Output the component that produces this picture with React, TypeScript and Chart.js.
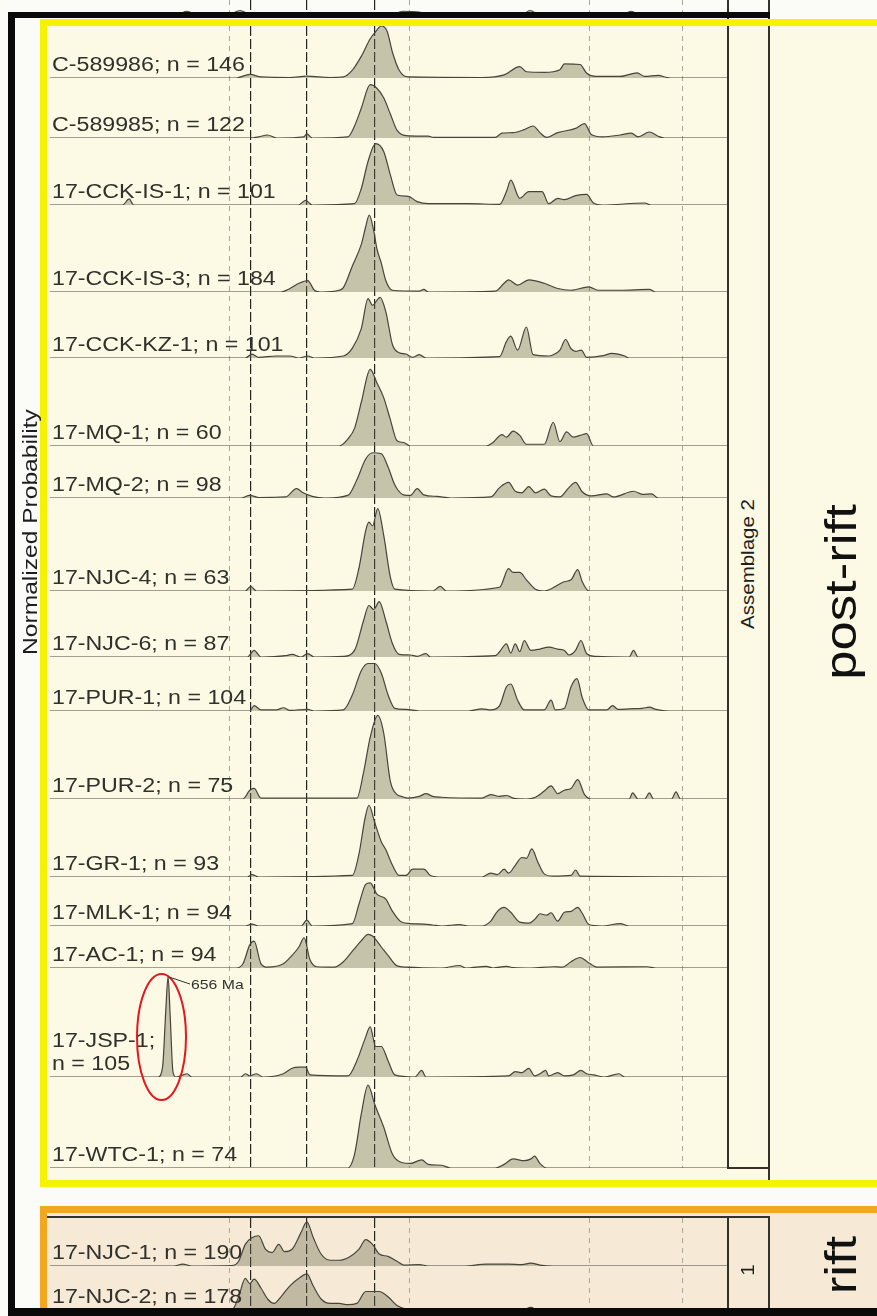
import React, { useEffect, useRef } from "react";
import { Chart, registerables } from "chart.js";

Chart.register(...registerables);

// ---------------- age axis (Ma) ----------------
const AGE_MIN = 0;
const AGE_MAX = 3767;
const referenceAges = [1000, 1115, 1427, 1804, 2000, 3000, 3515];
const referenceIsMajor = [false, true, true, true, false, false, false];

// ---------------- samples ----------------
const postRiftNames = [
  "C-589986", "C-589985", "17-CCK-IS-1", "17-CCK-IS-3", "17-CCK-KZ-1", "17-MQ-1", "17-MQ-2", "17-NJC-4",
  "17-NJC-6", "17-PUR-1", "17-PUR-2", "17-GR-1", "17-MLK-1", "17-AC-1", "17-JSP-1", "17-WTC-1",
];
const postRiftN = [146, 122, 101, 184, 101, 60, 98, 63, 87, 104, 75, 93, 94, 94, 105, 74];
const riftNames = ["17-NJC-1", "17-NJC-2"];
const riftN = [190, 178];

// normalized probability curves: [age (Ma), normalized probability]
const C589986 = [[0,0],[1035,0],[1110,0.07],[1172,0.02],[1333,0.01],[1427,0.035],[1556,0.01],[1630,0.02],[1680,0.15],[1730,0.42],[1780,0.76],[1809,0.89],[1841,1.0],[1873,0.9],[1903,0.49],[1940,0.15],[1990,0.02],[2400,0.01],[2523,0.06],[2610,0.22],[2647,0.12],[2746,0.11],[2833,0.16],[2858,0.27],[2945,0.26],[2982,0.09],[3032,0.03],[3168,0.03],[3262,0.1],[3304,0.03],[3379,0.05],[3428,0.01],[3466,0],[3767,0]];
const C589985 = [[0,0],[1110,0],[1160,0.02],[1209,0.05],[1260,0],[1410,0.02],[1427,0.07],[1457,0],[1655,0.02],[1692,0.2],[1730,0.5],[1779,0.89],[1816,0.83],[1854,0.67],[1891,0.4],[1928,0.13],[1978,0.04],[2102,0.03],[2130,0.01],[2474,0.01],[2511,0.08],[2573,0.09],[2635,0.14],[2684,0.2],[2722,0.09],[2759,0.01],[2821,0.09],[2920,0.16],[2970,0.24],[3007,0.06],[3070,0.02],[3168,0.05],[3230,0.08],[3267,0.02],[3330,0.1],[3379,0.03],[3415,0],[3767,0]];
const CCK_IS_1 = [[0,0],[403,0],[440,0.09],[465,0],[1380,0],[1420,0.07],[1457,0],[1692,0.02],[1730,0.25],[1767,0.65],[1809,0.915],[1854,0.8],[1891,0.45],[1928,0.15],[1990,0.13],[2040,0.05],[2102,0.02],[2325,0.02],[2498,0.01],[2536,0.2],[2560,0.37],[2610,0.1],[2660,0.2],[2697,0.2],[2734,0.2],[2771,0.02],[2821,0.1],[2858,0.08],[2920,0.14],[2982,0.16],[3019,0.03],[3070,0],[3304,0.03],[3340,0],[3767,0]];
const CCK_IS_3 = [[0,0],[1283,0],[1333,0.04],[1383,0.1],[1432,0.13],[1469,0.02],[1506,0],[1606,0.02],[1630,0.05],[1680,0.3],[1730,0.55],[1754,0.75],[1774,0.885],[1799,0.7],[1816,0.5],[1841,0.33],[1866,0.13],[1903,0.02],[2052,0.01],[2077,0.03],[2102,0],[2474,0.01],[2523,0.1],[2548,0.14],[2598,0.08],[2660,0.14],[2746,0.1],[2821,0.04],[2895,0.02],[2994,0.06],[3044,0.02],[3168,0.02],[3330,0.03],[3366,0],[3767,0]];
const CCK_KZ_1 = [[0,0],[1085,0],[1122,0.06],[1159,0.01],[1258,0.03],[1333,0.03],[1383,0],[1432,0.03],[1469,0],[1630,0.03],[1680,0.15],[1730,0.45],[1767,0.9],[1792,0.8],[1834,0.92],[1866,0.7],[1903,0.2],[1940,0.08],[1978,0.06],[2015,0.01],[2052,0.05],[2089,0],[2498,0.02],[2536,0.25],[2560,0.33],[2598,0.12],[2647,0.47],[2684,0.05],[2771,0.03],[2796,0.05],[2833,0.12],[2865,0.28],[2895,0.14],[2920,0.1],[2952,0.12],[2982,0.01],[3081,0.04],[3120,0.07],[3156,0.06],[3193,0.03],[3218,0],[3767,0]];
const MQ_1 = [[0,0],[1606,0],[1655,0.08],[1692,0.2],[1730,0.5],[1779,0.87],[1816,0.72],[1854,0.55],[1891,0.3],[1928,0.06],[1965,0.04],[2003,0],[2424,0],[2461,0.04],[2511,0.13],[2536,0.1],[2573,0.17],[2610,0.12],[2647,0.02],[2746,0.02],[2796,0.27],[2833,0.05],[2870,0.16],[2908,0.1],[2945,0.12],[2982,0.14],[3019,0],[3767,0]];
const MQ_2 = [[0,0],[1060,0],[1110,0.05],[1159,0.01],[1308,0.02],[1370,0.18],[1407,0.1],[1457,0.03],[1531,0],[1655,0.05],[1705,0.35],[1754,0.75],[1792,0.87],[1841,0.85],[1878,0.6],[1916,0.25],[1965,0.06],[2003,0.05],[2040,0.18],[2077,0.06],[2151,0.03],[2226,0],[2449,0.02],[2498,0.2],[2548,0.3],[2585,0.13],[2622,0.1],[2660,0.22],[2697,0.1],[2746,0.17],[2784,0.04],[2833,0.02],[2883,0.2],[2920,0.3],[2957,0.12],[3007,0.04],[3094,0.08],[3131,0.02],[3242,0.13],[3292,0.07],[3342,0.08],[3379,0],[3767,0]];
const NJC_4 = [[0,0],[1085,0],[1115,0.05],[1147,0],[1680,0.02],[1717,0.25],[1754,0.65],[1772,0.74],[1792,0.7],[1821,0.886],[1854,0.6],[1891,0.15],[1916,0.02],[2126,0],[2169,0.05],[2201,0],[2498,0.04],[2548,0.24],[2573,0.2],[2610,0.2],[2647,0.12],[2697,0.02],[2746,0],[2858,0.1],[2895,0.12],[2932,0.23],[2957,0.1],[2994,0],[3767,0]];
const NJC_6 = [[0,0],[1097,0],[1134,0.1],[1172,0],[1308,0.02],[1345,0.04],[1395,0],[1432,0.05],[1469,0],[1630,0.01],[1692,0.1],[1742,0.55],[1772,0.78],[1799,0.72],[1829,0.84],[1866,0.55],[1903,0.2],[1940,0.04],[2003,0.03],[2040,0.01],[2089,0.05],[2114,0],[2474,0.02],[2498,0.08],[2536,0.2],[2560,0.06],[2585,0.2],[2610,0.08],[2635,0.25],[2672,0.1],[2722,0.12],[2771,0.15],[2821,0.12],[2858,0.1],[2883,0.03],[2920,0.1],[2950,0.25],[2982,0.05],[3032,0.01],[3218,0],[3242,0.1],[3267,0],[3767,0]];
const PUR_1 = [[0,0],[1110,0],[1134,0.1],[1172,0.02],[1258,0.02],[1296,0.06],[1333,0.01],[1432,0.03],[1469,0],[1630,0.02],[1680,0.3],[1730,0.75],[1767,0.88],[1804,0.88],[1841,0.7],[1878,0.3],[1916,0.05],[1978,0.03],[2052,0],[2325,0],[2400,0.04],[2449,0.02],[2498,0.1],[2536,0.45],[2560,0.5],[2598,0.2],[2635,0.02],[2746,0.02],[2784,0.2],[2808,0.02],[2858,0.05],[2895,0.45],[2928,0.6],[2957,0.25],[2994,0.02],[3094,0.02],[3126,0.1],[3156,0.03],[3218,0.04],[3292,0.05],[3330,0.07],[3366,0.03],[3440,0],[3767,0]];
const PUR_2 = [[0,0],[1072,0],[1110,0.1],[1134,0.12],[1172,0.01],[1705,0.01],[1742,0.3],[1779,0.7],[1821,0.95],[1854,0.75],[1891,0.2],[1928,0.05],[1953,0.03],[1990,0.01],[2052,0.03],[2089,0.06],[2126,0.03],[2176,0.02],[2400,0.01],[2449,0.05],[2498,0.03],[2536,0.04],[2573,0.01],[2647,0],[2697,0.02],[2746,0.09],[2784,0.15],[2821,0.06],[2858,0.1],[2895,0.12],[2932,0.22],[2970,0.05],[3007,0],[3218,0],[3237,0.07],[3267,0],[3304,0],[3330,0.07],[3354,0],[3453,0],[3478,0.08],[3503,0],[3767,0]];
const GR_1 = [[0,0],[1097,0],[1122,0.03],[1159,0],[1680,0.02],[1717,0.3],[1750,0.75],[1772,0.92],[1804,0.7],[1841,0.45],[1866,0.35],[1903,0.15],[1940,0.02],[1978,0.02],[2015,0.1],[2077,0.1],[2114,0.02],[2176,0],[2400,0],[2449,0.05],[2486,0.03],[2523,0.1],[2548,0.05],[2585,0.15],[2622,0.25],[2647,0.24],[2677,0.36],[2709,0.2],[2746,0.04],[2796,0.01],[2895,0.02],[2920,0.09],[2945,0.01],[3767,0]];
const MLK_1 = [[0,0],[1085,0],[1122,0.04],[1159,0],[1395,0],[1427,0.12],[1457,0],[1680,0.05],[1717,0.45],[1754,0.85],[1779,0.88],[1816,0.65],[1866,0.55],[1903,0.3],[1953,0.08],[2003,0.05],[2077,0.04],[2126,0.02],[2176,0],[2275,0.03],[2325,0],[2400,0],[2449,0.1],[2486,0.3],[2523,0.38],[2560,0.28],[2610,0.08],[2660,0.06],[2697,0.15],[2722,0.25],[2759,0.22],[2784,0.27],[2821,0.1],[2858,0.28],[2895,0.3],[2932,0.38],[2957,0.26],[2994,0.03],[3069,0],[3168,0.05],[3218,0],[3767,0]];
const AC_1 = [[0,0],[1035,0],[1072,0.1],[1110,0.55],[1134,0.64],[1172,0.1],[1209,0.02],[1296,0.1],[1345,0.3],[1383,0.5],[1412,0.72],[1444,0.2],[1481,0.03],[1581,0.02],[1630,0.15],[1680,0.4],[1730,0.65],[1767,0.8],[1792,0.76],[1841,0.5],[1878,0.3],[1928,0.05],[1978,0.02],[2176,0],[2275,0.06],[2312,0],[2424,0.04],[2461,0],[2536,0.04],[2573,0.01],[2672,0],[2796,0.03],[2846,0.02],[2895,0.15],[2945,0.25],[2994,0.12],[3044,0.02],[3317,0.03],[3366,0],[3767,0]];
const JSP_1 = [[0,0],[600,0],[626,0.1],[643,0.6],[656,0.92],[668,0.55],[683,0.05],[700,0],[762,0.03],[787,0],[1060,0],[1085,0.03],[1110,0.01],[1147,0.03],[1184,0],[1296,0.03],[1345,0.08],[1383,0.09],[1420,0.09],[1444,0.02],[1655,0.01],[1705,0.15],[1750,0.35],[1779,0.46],[1809,0.28],[1841,0.28],[1878,0.15],[1916,0.02],[2027,0],[2065,0.06],[2089,0],[2548,0.01],[2585,0.05],[2622,0.04],[2660,0.08],[2692,0.01],[2722,0.03],[2754,0.06],[2771,0.01],[2821,0.04],[2858,0.01],[2908,0.02],[2950,0.06],[2982,0.03],[3019,0.02],[3081,0],[3161,0.03],[3193,0],[3767,0]];
const WTC_1 = [[0,0],[1655,0],[1692,0.15],[1730,0.6],[1767,0.91],[1804,0.7],[1854,0.45],[1903,0.15],[1953,0.06],[2003,0.05],[2065,0.09],[2102,0.04],[2176,0.03],[2226,0],[2474,0],[2523,0.04],[2573,0.1],[2635,0.08],[2672,0.1],[2692,0.13],[2722,0.05],[2759,0],[3767,0]];
const NJC_1 = [[0,0],[688,0],[738,0.04],[787,0],[1010,0.01],[1048,0.1],[1085,0.45],[1122,0.59],[1159,0.63],[1197,0.35],[1234,0.28],[1271,0.45],[1303,0.3],[1345,0.35],[1395,0.7],[1427,0.92],[1462,0.6],[1506,0.25],[1556,0.12],[1606,0.12],[1668,0.2],[1717,0.35],[1754,0.55],[1792,0.45],[1829,0.25],[1878,0.2],[1928,0.1],[1965,0.02],[2052,0.03],[2102,0],[2300,0],[2424,0.04],[2548,0.04],[2622,0.03],[2672,0.06],[2722,0.02],[2796,0],[3767,0]];
const NJC_2 = [[0,0],[1010,0],[1048,0.3],[1085,0.72],[1110,0.6],[1134,0.7],[1172,0.5],[1209,0.25],[1246,0.15],[1283,0.3],[1333,0.55],[1383,0.72],[1427,0.82],[1462,0.55],[1506,0.25],[1556,0.15],[1606,0.15],[1655,0.12],[1705,0.15],[1754,0.42],[1829,0.42],[1878,0.3],[1928,0.1],[1978,0.02],[2050,0],[2622,0],[2672,0.06],[2710,0],[3767,0]];
// tail of the curve of the panel above (cut off by the page top)
const panelAboveTail = [[0,0],[700,0],[760,0.25],[820,0],[1000,0.05],[1056,0.3],[1110,0.05],[1900,0.05],[1960,0.25],[2050,0.2],[2110,0.05],[2200,0],[2620,0],[2668,0.3],[2720,0],[3180,0],[3228,0.25],[3280,0],[3767,0]];

const postRiftSeries = [C589986, C589985, CCK_IS_1, CCK_IS_3, CCK_KZ_1, MQ_1, MQ_2, NJC_4, NJC_6, PUR_1, PUR_2, GR_1, MLK_1, AC_1, JSP_1, WTC_1];
const riftSeries = [NJC_1, NJC_2];

// ---------------- layout (px) ----------------
const PLOT_LEFT = 50;
const PLOT_WIDTH = 678;
const TOP_STRIP_H = 15;
const POST_TOP = 26;
const postRowHeights = [52, 60, 67, 87, 66, 88, 52, 93, 66, 54, 88, 78, 49, 42, 109, 91];
const RIFT_TOP = 1218;
const riftRowHeights = [48, 44];

const FONT = '"Liberation Sans", Arial, Helvetica, sans-serif';
const STRETCH = 1.17;

function isMajor(ctx: any) {
  return !!referenceIsMajor[ctx.index];
}

function makeConfig(series: number[][][], weights: number[]): any {
  const scales: Record<string, any> = {
    x: {
      type: "linear",
      min: AGE_MIN,
      max: AGE_MAX,
      afterBuildTicks: (axis: any) => {
        axis.ticks = referenceAges.map((value) => ({ value }));
      },
      ticks: { display: false },
      grid: {
        drawTicks: false,
        lineWidth: (ctx: any) => (isMajor(ctx) ? 1.2 : 1),
        color: (ctx: any) => (isMajor(ctx) ? "#24241f" : "#a8a79a"),
      },
      border: { display: false, dash: (ctx: any) => (isMajor(ctx) ? [10, 3] : [5, 5]) },
    },
  };
  const datasets = series.map((pts, i) => {
    const id = "y" + i;
    scales[id] = {
      type: "linear",
      position: "right",
      stack: "rows",
      stackWeight: weights[i],
      min: 0,
      max: 1,
      display: false,
    };
    return {
      data: pts.map(([x, y]) => ({ x, y })),
      yAxisID: id,
      borderColor: "#46453c",
      borderWidth: 1.2,
      backgroundColor: "rgba(110,104,78,0.38)",
      fill: "origin",
      pointRadius: 0,
      cubicInterpolationMode: "monotone",
    };
  });
  return {
    type: "line",
    data: { datasets },
    options: {
      responsive: false,
      animation: false,
      events: [],
      layout: { padding: 0, autoPadding: false },
      plugins: { legend: { display: false }, tooltip: { enabled: false }, title: { display: false } },
      scales,
    },
  };
}

function KdeStack(props: { series: number[][][]; rows: number[]; top: number }) {
  const ref = useRef<HTMLCanvasElement | null>(null);
  const height = props.rows.reduce((a, b) => a + b, 0);
  useEffect(() => {
    if (!ref.current) return;
    const chart = new Chart(ref.current, makeConfig(props.series, props.rows));
    return () => chart.destroy();
  }, []);
  return (
    <canvas
      ref={ref}
      width={PLOT_WIDTH}
      height={height}
      style={{ position: "absolute", left: PLOT_LEFT, top: props.top, width: PLOT_WIDTH, height, display: "block" }}
    />
  );
}

function Box(p: { l: number; t: number; w: number; h: number; bg: string; z?: number }) {
  return <div style={{ position: "absolute", left: p.l, top: p.t, width: p.w, height: p.h, background: p.bg, zIndex: p.z }} />;
}

function RotText(p: { cx: number; cy: number; size: number; text: string; color?: string }) {
  return (
    <div
      style={{
        position: "absolute",
        left: p.cx,
        top: p.cy,
        transform: `translate(-50%, -50%) rotate(-90deg) scaleX(${STRETCH})`,
        fontSize: p.size,
        lineHeight: 1,
        whiteSpace: "nowrap",
        color: p.color || "#1e1e1e",
        fontFamily: FONT,
      }}
    >
      {p.text}
    </div>
  );
}

function SampleLabel(p: { base: number; lines: string[] }) {
  const top = p.base - 7 - 18 - (p.lines.length - 1) * 23;
  return (
    <div
      style={{
        position: "absolute",
        left: 52,
        top,
        fontSize: 19.5,
        lineHeight: "23px",
        color: "#30302c",
        whiteSpace: "nowrap",
        transform: "scaleX(1.19)",
        transformOrigin: "left top",
        fontFamily: FONT,
      }}
    >
      {p.lines.map((l, i) => (
        <div key={i}>{l}</div>
      ))}
    </div>
  );
}

function baselines(top: number, rows: number[]) {
  const out: number[] = [];
  let y = top;
  rows.forEach((h) => {
    y += h;
    out.push(y);
  });
  return out;
}

export default function App() {
  const postBases = baselines(POST_TOP, postRowHeights);
  const riftBases = baselines(RIFT_TOP, riftRowHeights);
  const postBottom = postBases[postBases.length - 1];
  const dark = "#33332c";
  return (
    <div
      style={{
        position: "absolute",
        left: 0,
        top: 0,
        width: 877,
        height: 1316,
        overflow: "hidden",
        background: "#fbfbf8",
        fontFamily: FONT,
      }}
    >
      {/* tail of the panel above */}
      <KdeStack series={[panelAboveTail]} rows={[TOP_STRIP_H]} top={0} />
      <Box l={727} t={0} w={2} h={20} bg={dark} />
      <Box l={768} t={0} w={2} h={20} bg={dark} />

      {/* post-rift panel */}
      <div
        style={{
          position: "absolute",
          left: 40,
          top: 19,
          width: 900,
          height: 1168,
          boxSizing: "border-box",
          borderTop: "7px solid #f6f204",
          borderLeft: "7px solid #f6f204",
          borderBottom: "7px solid #f6f204",
          background: "#fcfae4",
        }}
      />
      <KdeStack series={postRiftSeries} rows={postRowHeights} top={POST_TOP} />
      <Box l={727} t={26} w={2} h={postBottom - 26} bg={dark} />
      <Box l={768} t={26} w={2} h={1180 - 26} bg={dark} />
      <Box l={727} t={postBottom - 1} w={43} h={1.5} bg={dark} />

      {postRiftNames.map((name, i) => (
        <SampleLabel
          key={name}
          base={postBases[i]}
          lines={name === "17-JSP-1" ? [name + ";", "n = " + postRiftN[i]] : [name + "; n = " + postRiftN[i]]}
        />
      ))}

      <RotText cx={749} cy={564} size={17.5} text="Assemblage 2" />
      <RotText cx={840} cy={592} size={45} text="post-rift" color="#111" />

      {/* 656 Ma annotation */}
      <svg style={{ position: "absolute", left: 0, top: 0, overflow: "visible" }} width={877} height={1316}>
        <ellipse cx={161.5} cy={1037} rx={24.5} ry={63} fill="none" stroke="#e5161e" strokeWidth={2} />
        <line x1={169} y1={977} x2={190} y2={984} stroke="#333" strokeWidth={1} />
      </svg>
      <div
        style={{
          position: "absolute",
          left: 191,
          top: 978,
          fontSize: 13.5,
          lineHeight: "14px",
          color: "#333",
          transform: `scaleX(${STRETCH})`,
          transformOrigin: "left top",
          whiteSpace: "nowrap",
        }}
      >
        656 Ma
      </div>

      {/* rift panel */}
      <div
        style={{
          position: "absolute",
          left: 40,
          top: 1206,
          width: 900,
          height: 200,
          boxSizing: "border-box",
          borderTop: "7px solid #f2a81e",
          borderLeft: "7px solid #f2a81e",
          background: "#f6ead6",
        }}
      />
      <KdeStack series={riftSeries} rows={riftRowHeights} top={RIFT_TOP} />
      <Box l={47} t={1216} w={723} h={2} bg={dark} />
      <Box l={727} t={1216} w={2} h={100} bg={dark} />
      <Box l={768} t={1216} w={2} h={100} bg={dark} />
      {riftNames.map((name, i) => (
        <SampleLabel key={name} base={riftBases[i]} lines={[name + "; n = " + riftN[i]]} />
      ))}
      <RotText cx={749} cy={1270} size={17.5} text="1" />
      <RotText cx={840} cy={1265} size={45} text="rift" color="#111" />

      {/* outer black frame */}
      <Box l={8} t={12} w={7} h={1304} bg="#0a0a0a" z={5} />
      <Box l={8} t={12} w={762} h={6} bg="#0a0a0a" z={5} />
      <Box l={8} t={1308} w={869} h={8} bg="#0a0a0a" z={5} />

      <RotText cx={29} cy={532} size={21} text="Normalized Probability" color="#1e1e1e" />
    </div>
  );
}
